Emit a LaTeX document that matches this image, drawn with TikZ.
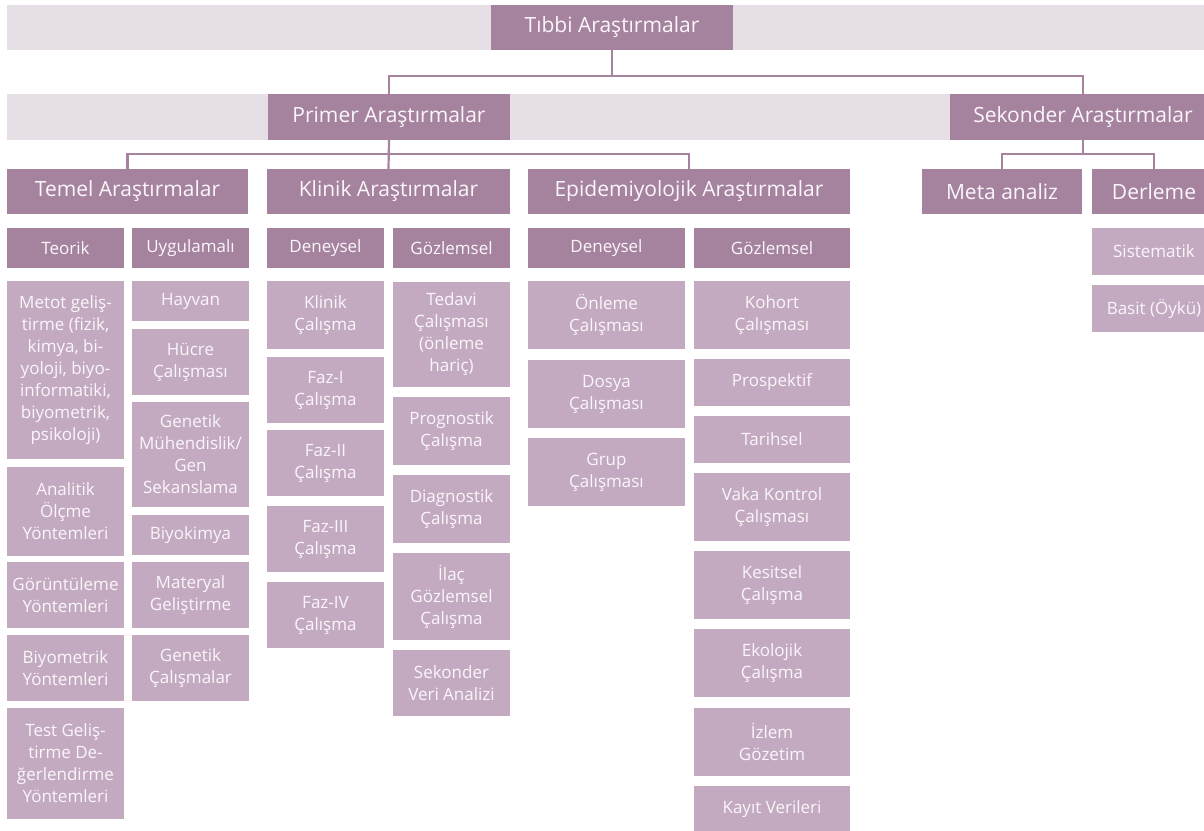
\documentclass[tikz,border=0pt]{standalone}
\usepackage{fontspec}
\setmainfont{Open Sans}
\usetikzlibrary{calc}
\definecolor{mauve}{HTML}{A5839F}
\definecolor{lilac}{HTML}{C4AAC1}
\definecolor{mist}{HTML}{E6DFE6}
\definecolor{chalk}{HTML}{FAF6FA}
\def\cell[#1](#2)(#3,#4,#5,#6)#7{\node[#1, minimum width={#5-#3}, minimum height={#6-#4}] (#2) at ({(#3+#5)/2},{(#4+#6)/2}) {#7};}

\begin{document}
\begin{tikzpicture}[x=1pt, y=-1pt,
		head/.style={fill=mauve, text=chalk, inner sep=0pt, font=\fontsize{21}{25}\selectfont},
		sub/.style={fill=mauve, text=chalk, inner sep=0pt, font=\fontsize{17}{22}\selectfont},
		leaf/.style={fill=lilac, text=chalk, inner sep=0pt, align=center, font=\fontsize{17}{22}\selectfont},
		link/.style={draw=mauve, line width=2.2pt}]
		%%%%% START %%%%%
		\useasboundingbox (0,0) rectangle (1204,830);
		\clip (0,0) rectangle (1204,830);
		
		\fill[mist] (7,5) rectangle (1230,50);
		\fill[mist] (7,94) rectangle (1230,140);
		
		\cell[head](tibbi)(491,5,733,50){Tıbbi Araştırmalar}
		\cell[head](primer)(268,94,510,140){Primer Araştırmalar}
		\cell[head](sekonder)(950,94,1216,140){Sekonder Araştırmalar}
		
		\cell[head](temel)(7,169,248,214){Temel Araştırmalar}
		\cell[head](klinik)(267,169,510,214){Klinik Araştırmalar}
		\cell[head](epi)(528,169,850,214){Epidemiyolojik Araştırmalar}
		\cell[head](meta)(922,169,1082,214){Meta analiz}
		\cell[head](derleme)(1092,169,1216,214){Derleme}
		
		\cell[sub](teorik)(7,228,124,268){Teorik}
		\cell[sub](uygulamali)(132,228,249,268){Uygulamalı}
		\cell[sub](kdeneysel)(267,228,384,268){Deneysel}
		\cell[sub](kgozlemsel)(393,228,510,268){Gözlemsel}
		\cell[sub](edeneysel)(528,228,685,268){Deneysel}
		\cell[sub](egozlemsel)(694,228,850,268){Gözlemsel}
		
		% Temel
		\cell[leaf](metot)(7,281,124,459){Metot geliş-\\tirme (fizik,\\kimya, bi-\\yoloji, biyo-\\informatiki,\\biyometrik,\\psikoloji)}
		\cell[leaf](analitik)(7,467,124,556){Analitik\\Ölçme\\Yöntemleri}
		\cell[leaf](goruntu)(7,562,124,628){Görüntüleme\\Yöntemleri}
		\cell[leaf](biyometrik)(7,635,124,701){Biyometrik\\Yöntemleri}
		\cell[leaf](test)(7,708,124,819){Test Geliş-\\tirme De-\\ğerlendirme\\Yöntemleri}
		
		\cell[leaf](hayvan)(132,281,249,321){Hayvan}
		\cell[leaf](hucre)(132,329,249,395){Hücre\\Çalışması}
		\cell[leaf](genmuh)(132,402,249,507){Genetik\\Mühendislik/\\Gen\\Sekanslama}
		\cell[leaf](biyokimya)(132,515,249,555){Biyokimya}
		\cell[leaf](materyal)(132,562,249,628){Materyal\\Geliştirme}
		\cell[leaf](gencal)(132,635,249,701){Genetik\\Çalışmalar}
		
		% Klinik
		\cell[leaf](klcal)(267,281,384,349){Klinik\\Çalışma}
		\cell[leaf](faz1)(267,357,384,423){Faz-I\\Çalışma}
		\cell[leaf](faz2)(267,430,384,496){Faz-II\\Çalışma}
		\cell[leaf](faz3)(267,506,384,572){Faz-III\\Çalışma}
		\cell[leaf](faz4)(267,582,384,648){Faz-IV\\Çalışma}
		
		\cell[leaf](tedavi)(393,282,510,387){Tedavi\\Çalışması\\(önleme\\hariç)}
		\cell[leaf](prognostik)(393,397,510,465){Prognostik\\Çalışma}
		\cell[leaf](diagnostik)(393,475,510,543){Diagnostik\\Çalışma}
		\cell[leaf](ilac)(393,553,510,640){İlaç\\Gözlemsel\\Çalışma}
		\cell[leaf](sekveri)(393,650,510,716){Sekonder\\Veri Analizi}
		
		% Epidemiyolojik
		\cell[leaf](onleme)(528,281,685,349){Önleme\\Çalışması}
		\cell[leaf](dosya)(528,360,685,428){Dosya\\Çalışması}
		\cell[leaf](grup)(528,438,685,506){Grup\\Çalışması}
		
		\cell[leaf](kohort)(694,281,850,349){Kohort\\Çalışması}
		\cell[leaf](prospektif)(694,359,850,406){Prospektif}
		\cell[leaf](tarihsel)(694,416,850,463){Tarihsel}
		\cell[leaf](vaka)(694,473,850,541){Vaka Kontrol\\Çalışması}
		\cell[leaf](kesitsel)(694,551,850,619){Kesitsel\\Çalışma}
		\cell[leaf](ekolojik)(694,629,850,697){Ekolojik\\Çalışma}
		\cell[leaf](izlem)(694,708,850,776){İzlem\\Gözetim}
		\cell[leaf](kayit)(694,786,850,832){Kayıt Verileri}
		
		% Derleme
		\cell[leaf](sistematik)(1092,228,1216,275){Sistematik}
		\cell[leaf](basit)(1092,285,1216,332){Basit (Öykü)}
		
		% connectors
		\draw[link] (tibbi.south) -- ++(0,26) coordinate (t1) -| (primer.north);
		\draw[link] (t1) -| (sekonder.north);
		\draw[link] (primer.south) -- (klinik.north);
		\draw[link] (primer.south) ++(0,14) coordinate (p1) -| (temel.north);
		\draw[link] (p1) -| (epi.north);
		\draw[link] (sekonder.south) -- ++(0,14) coordinate (s1) -| (meta.north);
		\draw[link] (s1) -| (derleme.north);
		%%%%% END %%%%%
	\end{tikzpicture}
\end{document}
